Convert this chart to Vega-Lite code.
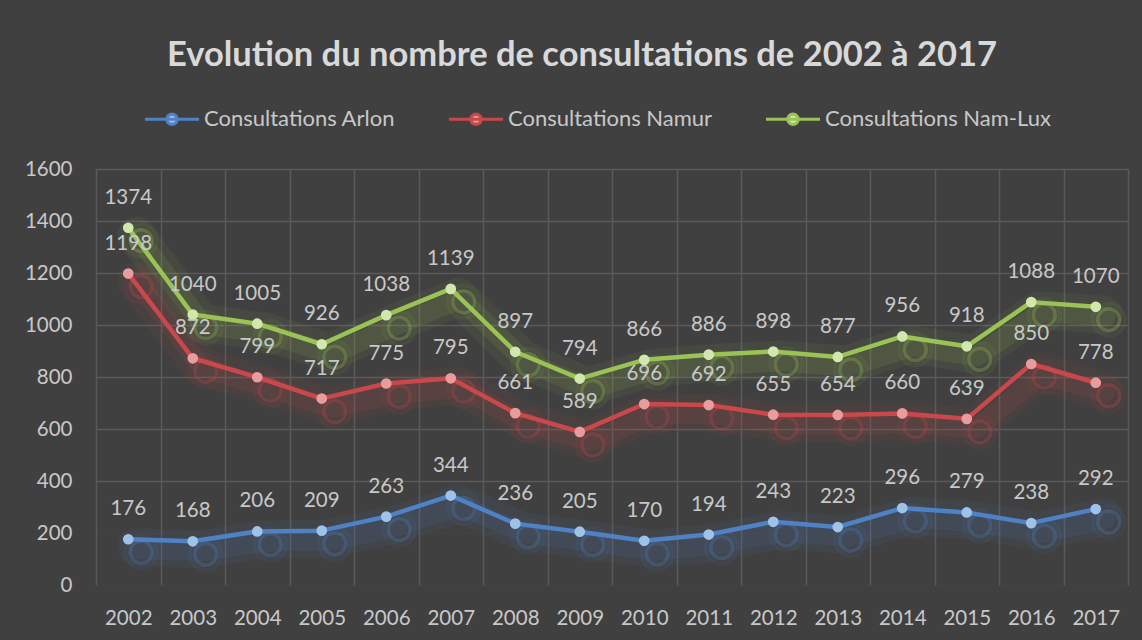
{
  "$schema": "https://vega.github.io/schema/vega-lite/v6.json",
  "width": 1032,
  "height": 416,
  "autosize": {"type": "none"},
  "padding": {"left": 96, "top": 169, "right": 14, "bottom": 55},
  "background": "#404040",
  "config": {"view": {"stroke": null}, "font": "Lato"},
  "title": {
    "text": "Evolution du nombre de consultations de 2002 à 2017",
    "font": "Lato",
    "fontSize": 34.5,
    "fontWeight": "bold",
    "color": "#d9d9d9",
    "anchor": "middle",
    "dx": -30,
    "offset": 17
  },
  "data": {
    "values": [
      {"year": "2002", "series": "Consultations Arlon", "value": 176},
      {"year": "2003", "series": "Consultations Arlon", "value": 168},
      {"year": "2004", "series": "Consultations Arlon", "value": 206},
      {"year": "2005", "series": "Consultations Arlon", "value": 209},
      {"year": "2006", "series": "Consultations Arlon", "value": 263},
      {"year": "2007", "series": "Consultations Arlon", "value": 344},
      {"year": "2008", "series": "Consultations Arlon", "value": 236},
      {"year": "2009", "series": "Consultations Arlon", "value": 205},
      {"year": "2010", "series": "Consultations Arlon", "value": 170},
      {"year": "2011", "series": "Consultations Arlon", "value": 194},
      {"year": "2012", "series": "Consultations Arlon", "value": 243},
      {"year": "2013", "series": "Consultations Arlon", "value": 223},
      {"year": "2014", "series": "Consultations Arlon", "value": 296},
      {"year": "2015", "series": "Consultations Arlon", "value": 279},
      {"year": "2016", "series": "Consultations Arlon", "value": 238},
      {"year": "2017", "series": "Consultations Arlon", "value": 292},
      {"year": "2002", "series": "Consultations Namur", "value": 1198},
      {"year": "2003", "series": "Consultations Namur", "value": 872},
      {"year": "2004", "series": "Consultations Namur", "value": 799},
      {"year": "2005", "series": "Consultations Namur", "value": 717},
      {"year": "2006", "series": "Consultations Namur", "value": 775},
      {"year": "2007", "series": "Consultations Namur", "value": 795},
      {"year": "2008", "series": "Consultations Namur", "value": 661},
      {"year": "2009", "series": "Consultations Namur", "value": 589},
      {"year": "2010", "series": "Consultations Namur", "value": 696},
      {"year": "2011", "series": "Consultations Namur", "value": 692},
      {"year": "2012", "series": "Consultations Namur", "value": 655},
      {"year": "2013", "series": "Consultations Namur", "value": 654},
      {"year": "2014", "series": "Consultations Namur", "value": 660},
      {"year": "2015", "series": "Consultations Namur", "value": 639},
      {"year": "2016", "series": "Consultations Namur", "value": 850},
      {"year": "2017", "series": "Consultations Namur", "value": 778},
      {"year": "2002", "series": "Consultations Nam-Lux", "value": 1374},
      {"year": "2003", "series": "Consultations Nam-Lux", "value": 1040},
      {"year": "2004", "series": "Consultations Nam-Lux", "value": 1005},
      {"year": "2005", "series": "Consultations Nam-Lux", "value": 926},
      {"year": "2006", "series": "Consultations Nam-Lux", "value": 1038},
      {"year": "2007", "series": "Consultations Nam-Lux", "value": 1139},
      {"year": "2008", "series": "Consultations Nam-Lux", "value": 897},
      {"year": "2009", "series": "Consultations Nam-Lux", "value": 794},
      {"year": "2010", "series": "Consultations Nam-Lux", "value": 866},
      {"year": "2011", "series": "Consultations Nam-Lux", "value": 886},
      {"year": "2012", "series": "Consultations Nam-Lux", "value": 898},
      {"year": "2013", "series": "Consultations Nam-Lux", "value": 877},
      {"year": "2014", "series": "Consultations Nam-Lux", "value": 956},
      {"year": "2015", "series": "Consultations Nam-Lux", "value": 918},
      {"year": "2016", "series": "Consultations Nam-Lux", "value": 1088},
      {"year": "2017", "series": "Consultations Nam-Lux", "value": 1070}
    ]
  },
  "encoding": {
    "x": {
      "field": "year",
      "type": "ordinal",
      "title": null,
      "scale": {"type": "band", "paddingInner": 0, "paddingOuter": 0},
      "axis": {
        "labelAngle": 0,
        "labelFont": "Lato",
        "labelFontSize": 20.5,
        "labelColor": "#c8c8c8",
        "labelPadding": 23,
        "ticks": false,
        "domain": false,
        "grid": true,
        "tickBand": "extent",
        "gridColor": "#5a5a5a",
        "gridWidth": 1.5
      }
    },
    "y": {
      "field": "value",
      "type": "quantitative",
      "title": null,
      "scale": {"domain": [0, 1600]},
      "axis": {
        "values": [0, 200, 400, 600, 800, 1000, 1200, 1400, 1600],
        "format": "d",
        "labelFont": "Lato",
        "labelFontSize": 20.5,
        "labelColor": "#c8c8c8",
        "labelPadding": 24,
        "ticks": false,
        "domain": false,
        "grid": true,
        "gridColor": "#5a5a5a",
        "gridWidth": 1.5,
        "gridOpacity": {"condition": {"test": "datum.value <= 200", "value": 0.15}, "value": 1}
      }
    },
    "stroke": {
      "field": "series",
      "title": null,
      "scale": {"domain": ["Consultations Arlon", "Consultations Namur", "Consultations Nam-Lux"], "range": ["#4f82c4", "#c9484b", "#9bc255"]},
      "legend": {
        "title": null,
        "orient": "none",
        "legendX": 47,
        "legendY": -79,
        "direction": "horizontal",
        "symbolType": "M-1,0H1M0.19,0A0.19,0.19,0,1,1,-0.19,0A0.19,0.19,0,1,1,0.19,0Z",
        "symbolSize": 2916,
        "symbolStrokeWidth": 3.2,
        "symbolOpacity": 1,
        "labelFont": "Lato",
        "labelFontSize": 22,
        "labelColor": "#c8c8c8",
        "labelLimit": 400,
        "labelOffset": 3,
        "columnPadding": 46
      }
    }
  },
  "layer": [
    {
      "mark": {"type": "line", "xOffset": 8, "yOffset": 8, "strokeWidth": 38, "opacity": 0.07, "strokeCap": "round", "strokeJoin": "round"}
    },
    {
      "mark": {"type": "line", "xOffset": 10, "yOffset": 10, "strokeWidth": 20, "opacity": 0.11, "strokeCap": "round", "strokeJoin": "round"}
    },
    {
      "mark": {"type": "point", "filled": false, "xOffset": 13, "yOffset": 13, "size": 16, "strokeWidth": 32, "opacity": 0.08}
    },
    {
      "mark": {"type": "point", "filled": false, "xOffset": 13, "yOffset": 13, "size": 12, "strokeWidth": 22, "opacity": 0.28}
    },
    {
      "mark": {"type": "line", "strokeWidth": 4.5, "strokeJoin": "round"}
    },
    {
      "mark": {"type": "point", "filled": true, "size": 115, "opacity": 1, "strokeWidth": 0},
      "encoding": {
        "fill": {
          "field": "series",
          "title": null,
          "scale": {"domain": ["Consultations Arlon", "Consultations Namur", "Consultations Nam-Lux"], "range": ["#9fc2e8", "#e89c9e", "#d3e6ae"]},
          "legend": {
            "title": null,
            "orient": "none",
            "legendX": 47,
            "legendY": -79,
            "direction": "horizontal",
            "symbolType": "M-1,0H1M0.19,0A0.19,0.19,0,1,1,-0.19,0A0.19,0.19,0,1,1,0.19,0Z",
            "symbolSize": 2916,
            "symbolStrokeWidth": 3.2,
            "symbolOpacity": 1,
            "labelFont": "Lato",
            "labelFontSize": 22,
            "labelColor": "#c8c8c8",
            "labelLimit": 400,
            "labelOffset": 3,
            "columnPadding": 46
          }
        }
      }
    },
    {
      "mark": {"type": "text", "dy": -30, "font": "Lato", "fontSize": 20.5, "fill": "#c8c8c8"},
      "encoding": {"text": {"field": "value", "type": "quantitative"}, "stroke": {"value": null}}
    }
  ]
}
